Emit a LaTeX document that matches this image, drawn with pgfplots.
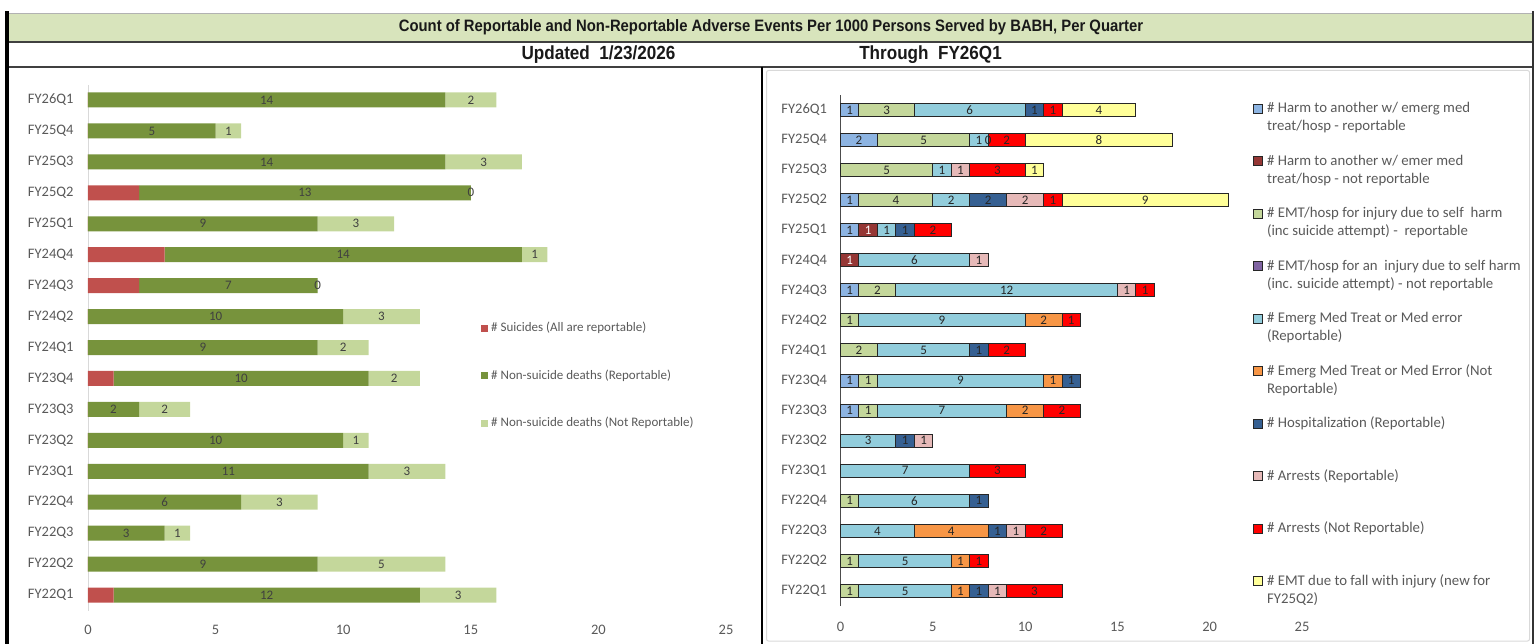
\documentclass[border=0pt]{standalone}
\usepackage{pgfplots}
\pgfplotsset{compat=1.18}
\usepackage{pgfplotstable}
\usepackage{fontspec}
\setmainfont{Carlito}
\newfontfamily\headfont[FakeStretch=0.90]{Liberation Sans}

\definecolor{bandgreen}{HTML}{D8E4BC}
\definecolor{suicide}{HTML}{C0504D}
\definecolor{deathrep}{HTML}{77933C}
\definecolor{deathnrep}{HTML}{C4D79B}
\definecolor{harmrep}{HTML}{8DB4E2}
\definecolor{harmnrep}{HTML}{953735}
\definecolor{selfrep}{HTML}{C4D79B}
\definecolor{selfnrep}{HTML}{8064A2}
\definecolor{medrep}{HTML}{92CDDC}
\definecolor{mednrep}{HTML}{F79646}
\definecolor{hosp}{HTML}{366092}
\definecolor{arrrep}{HTML}{E6B9B8}
\definecolor{arrnrep}{HTML}{FF0000}
\definecolor{fall}{HTML}{FFFF99}
\definecolor{labelgray}{HTML}{404040}
\definecolor{textgray}{HTML}{595959}
\definecolor{barline}{HTML}{262626}

% Deaths per quarter; row q=0 is FY22Q1, q=16 is FY26Q1
\pgfplotstableread{
q  sui rep nrep
0  1   12  3
1  0   9   5
2  0   3   1
3  0   6   3
4  0   11  3
5  0   10  1
6  0   2   2
7  1   10  2
8  0   9   2
9  0   10  3
10 2   7   0
11 3   14  1
12 0   9   3
13 2   13  0
14 0   14  3
15 0   5   1
16 0   14  2
}\deaths

% Other adverse events per quarter (same rows);
% ml holds the labels of the mn column (blank = no entry)
\pgfplotstableread{
q  hr hn sr sn mr mn ho ar an fa ml
0  0  0  1  0  5  1  1  1  3  0  1
1  0  0  1  0  5  1  0  0  1  0  1
2  0  0  0  0  4  4  1  1  2  0  4
3  0  0  1  0  6  0  1  0  0  0  {}
4  0  0  0  0  7  0  0  0  3  0  {}
5  0  0  0  0  3  0  1  1  0  0  {}
6  1  0  1  0  7  2  0  0  2  0  2
7  1  0  1  0  9  1  1  0  0  0  1
8  0  0  2  0  5  0  1  0  2  0  {}
9  0  0  1  0  9  2  0  0  1  0  2
10 1  0  2  0  12 0  0  1  1  0  {}
11 0  1  0  0  6  0  0  1  0  0  {}
12 1  1  0  0  1  0  1  0  2  0  {}
13 1  0  4  0  2  0  2  2  1  9  {}
14 0  0  5  0  1  0  0  1  3  1  {}
15 2  0  5  0  1  0  0  0  2  8  0
16 1  0  3  0  6  0  1  0  1  4  {}
}\events

\def\quarters{FY22Q1,FY22Q2,FY22Q3,FY22Q4,FY23Q1,FY23Q2,FY23Q3,FY23Q4,
  FY24Q1,FY24Q2,FY24Q3,FY24Q4,FY25Q1,FY25Q2,FY25Q3,FY25Q4,FY26Q1}

% legend text whose marker sits on the first line
\newcommand\entry[1]{\begin{tabular}[t]{@{}l@{}}#1\end{tabular}}

\pgfplotsset{
  quarterly/.style={
    xbar stacked, stacked ignores zero=false, clip=false,
    xmin=0, xmax=25, ymin=-0.5, ymax=16.5,
    xtick={0,5,...,25},
    ytick={0,...,16}, yticklabels/.expand once=\quarters,
    tick style={draw=none}, major tick length=0pt,
    axis lines*=left,
    x axis line style={draw=none},
    /pgf/number format/assume math mode=true,
    ticklabel style={font=\fontsize{14.5}{16}\selectfont, text=textgray},
    legend cell align=left,
  },
}

\begin{document}
\begin{tikzpicture}
\useasboundingbox (0pt,0pt) rectangle (1538pt,-644pt);

% header bands and frame
\fill[bandgreen] (9pt,-14pt) rectangle (1533pt,-42pt);
\draw[black!30, line width=0.8pt] (9pt,-13.6pt) -- (1533pt,-13.6pt);
\draw[black!75, line width=1.8pt] (9pt,-42pt) -- (1533pt,-42pt);
\draw[black!75, line width=1.8pt] (9pt,-67pt) -- (1533pt,-67pt);
\fill[black] (4.5pt,-11pt) rectangle (9pt,-644pt);
\draw[black!80, line width=1.5pt] (1533pt,-11pt) -- (1533pt,-644pt);
\draw[black, line width=1.5pt] (762pt,-67pt) -- (762pt,-644pt);
\draw[black!15, line width=1pt, rounded corners=2pt] (766.5pt,-70.5pt) rectangle (1529.5pt,-641pt);

\node[font=\headfont\bfseries\fontsize{16.5}{18}\selectfont, text=black!90] at (771pt,-27.5pt)
  {Count of Reportable and Non-Reportable Adverse Events Per 1000 Persons Served by BABH, Per Quarter};
\node[font=\headfont\bfseries\fontsize{19}{21}\selectfont, text=black!90] at (598.5pt,-55pt)
  {Updated\ \ 1/23/2026};
\node[font=\headfont\bfseries\fontsize{19}{21}\selectfont, text=black!90] at (930.5pt,-55pt)
  {Through\ \ FY26Q1};

% deaths
\begin{axis}[
  quarterly,
  x=25.52pt, y=30.94pt,
  at={(88pt,-610.5pt)}, anchor=south west,
  bar width=15pt,
  y axis line style={draw=black!15, line width=0.8pt},
  xticklabel style={yshift=-11pt},
  yticklabel style={xshift=-11pt},
  every node near coord/.append style={font=\fontsize{13}{14}\selectfont, text=labelgray,
    anchor=center},
  legend style={at={(rel axis cs:0.616,0.5822)}, anchor=north west, draw=none, fill=none,
    inner sep=0pt, row sep=0pt,
    font=\fontsize{13}{15}\selectfont, text=textgray,
    /tikz/every odd column/.append style={column sep=3pt},
    nodes={inner sep=0pt, text height=27.5pt, text depth=20pt}},
  legend image code/.code={\fill[#1] (0pt,-3.5pt) rectangle (7pt,3.5pt);},
]
\addplot[fill=suicide, draw=none] table[x=sui, y=q]{\deaths};
\addplot[fill=deathrep, draw=none, nodes near coords, point meta=\thisrow{rep}]
  table[x=rep, y=q]{\deaths};
\addplot[fill=deathnrep, draw=none, nodes near coords, point meta=\thisrow{nrep}]
  table[x=nrep, y=q]{\deaths};
\legend{\# Suicides (All are reportable),\# Non-suicide deaths (Reportable),\# Non-suicide deaths (Not Reportable)}
\end{axis}

% other adverse events
\begin{axis}[
  quarterly,
  x=18.46pt, y=30.06pt,
  at={(840.5pt,-606pt)}, anchor=south west,
  bar width=13pt,
  y axis line style={draw=black!70, line width=1.8pt},
  xticklabel style={yshift=-13pt},
  yticklabel style={xshift=-10pt},
  evbar/.style 2 args={fill=#2, draw=barline, line width=1pt,
    nodes near coords={\pgfmathfloatifflags{\pgfplotspointmeta}{0}{}{\pgfmathprintnumber{\pgfplotspointmeta}}},
    point meta=\thisrow{#1}},
  every node near coord/.append style={font=\fontsize{13}{14}\selectfont, text=barline,
    anchor=center},
  legend style={at={(rel axis cs:0.8938,1.0245)}, anchor=north west, draw=none, fill=none,
    inner sep=0pt, row sep=0pt,
    font=\fontsize{14.8}{18}\selectfont, text=textgray,
    /tikz/every odd column/.append style={column sep=4pt},
    nodes={inner sep=0pt, text height=30pt, text depth=22.5pt}},
  legend image code/.code={\draw[#1, line width=0.9pt] (0pt,-4.5pt) rectangle (9pt,4.5pt);},
]
\addplot[evbar={hr}{harmrep}] table[x=hr, y=q]{\events};
\addplot[evbar={hn}{harmnrep}, every node near coord/.append style={text=white}] table[x=hn, y=q]{\events};
\addplot[evbar={sr}{selfrep}] table[x=sr, y=q]{\events};
\addplot[evbar={sn}{selfnrep}, draw=none] table[x=sn, y=q]{\events};
\addplot[evbar={mr}{medrep}] table[x=mr, y=q]{\events};
\addplot[evbar={mn}{mednrep}, point meta=explicit symbolic, nodes near coords={\pgfplotspointmeta}]
  table[x=mn, y=q, meta=ml]{\events};
\addplot[evbar={ho}{hosp}] table[x=ho, y=q]{\events};
\addplot[evbar={ar}{arrrep}] table[x=ar, y=q]{\events};
\addplot[evbar={an}{arrnrep}] table[x=an, y=q]{\events};
\addplot[evbar={fa}{fall}] table[x=fa, y=q]{\events};
\addlegendentry{\entry{\# Harm to another w/ emerg med\\treat/hosp - reportable}}
\addlegendentry{\entry{\# Harm to another w/ emer med\\treat/hosp - not reportable}}
\addlegendentry{\entry{\# EMT/hosp for injury due to self\ \ harm\\(inc suicide attempt) -\ \ reportable}}
\addlegendentry{\entry{\# EMT/hosp for an\ \ injury due to self harm\\(inc. suicide attempt) - not reportable}}
\addlegendentry{\entry{\# Emerg Med Treat or Med error\\(Reportable)}}
\addlegendentry{\entry{\# Emerg Med Treat or Med Error (Not\\Reportable)}}
\addlegendentry{\entry{\# Hospitalization (Reportable)}}
\addlegendentry{\entry{\# Arrests (Reportable)}}
\addlegendentry{\entry{\# Arrests (Not Reportable)}}
\addlegendentry{\entry{\# EMT due to fall with injury (new for\\FY25Q2)}}
\end{axis}
\end{tikzpicture}
\end{document}
